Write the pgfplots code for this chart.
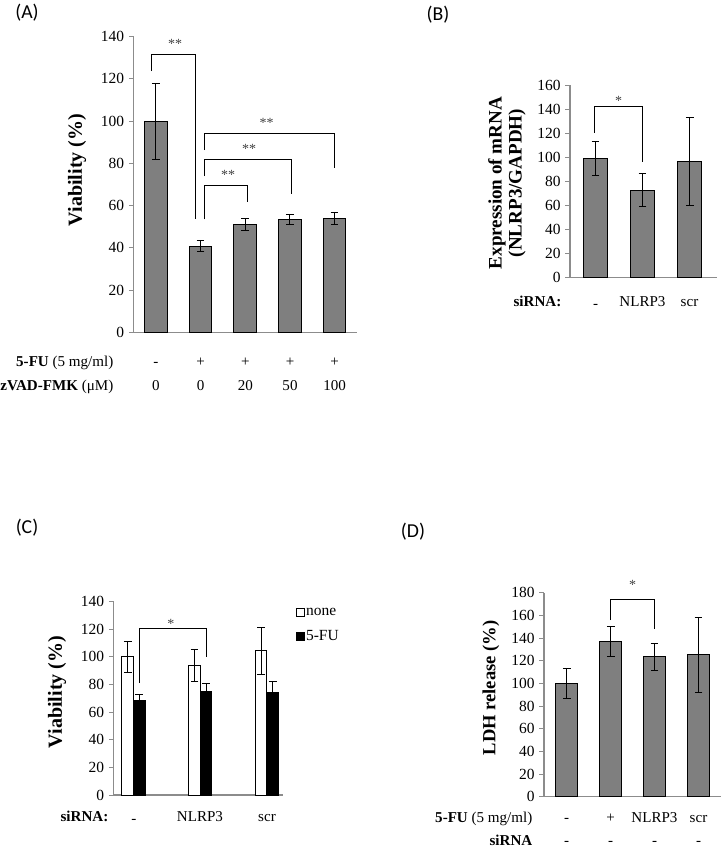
\documentclass[border=0pt]{standalone}
\usepackage{fontspec}
\setmainfont{Liberation Serif}
\newfontfamily\calibri{Carlito}
\usepackage{pgfplots}
\pgfplotsset{compat=1.18}

\definecolor{barg}{HTML}{7F7F7F}
\definecolor{axgray}{HTML}{8C8C8C}
\definecolor{stargray}{HTML}{404040}

\newcommand{\tf}{\fontsize{11.3}{14}\selectfont}
\newcommand{\pf}{\calibri\fontsize{14.8}{16}\selectfont}
\newcommand{\starfont}{\fontsize{10.5}{10.5}\selectfont}
\newcommand{\lo}{\raisebox{-1.5pt}{-}}

\pgfplotsset{
 panel/.style={
  scale only axis, anchor=south west,
  axis x line=bottom, axis y line=left,
  axis line style={draw=axgray, line width=0.9pt, -},
  y tick style={draw=axgray, line width=0.75pt},
  tick align=outside, major tick length=3.5pt,
  xtick=\empty,
  ymin=0,
  yticklabel style={font=\fontsize{11.6}{14}\selectfont},
  /pgf/number format/assume math mode=true,
  ybar, clip=false,
  every axis plot/.append style={draw=black, line width=0.75pt},
 },
 errs/.style={error bars/.cd, y dir=both, y explicit,
   error bar style={line width=0.75pt, black},
   error mark options={rotate=90, mark size=2.9pt, line width=0.75pt, black}},
}
\tikzset{brk/.style={black, line width=0.75pt}, st/.style={font=\starfont, text=stargray, inner sep=0pt},
  lb/.style={font=\tf, anchor=base}, lbe/.style={font=\tf, anchor=base east}}

\begin{document}
\begin{tikzpicture}[x=0.75pt,y=0.75pt]
\path[use as bounding box] (0,0) rectangle (722,-848);

% ---------------- (A) ----------------
\begin{axis}[panel, at={(100.125pt,-249.225pt)}, width=167.4pt, height=221.7pt,
  xmin=-0.5, xmax=4.5, ymax=140, ytick={0,20,...,140}, bar width=0.505]
\addplot[fill=barg, errs] coordinates {
 (0,100) +- (0,18)
 (1,40.7) +- (0,2.6)
 (2,51) +- (0,2.8)
 (3,53.5) +- (0,2.3)
 (4,54) +- (0,2.8)};
\draw[brk] (axis cs:-0.1,123.7) |- (axis cs:0.9,131.8) -- (axis cs:0.9,53.6);
\draw[brk] (axis cs:1.08,53.5) |- (axis cs:2.05,69.4) -- (axis cs:2.05,61.6);
\draw[brk] (axis cs:1.08,74) |- (axis cs:3.04,81.9) -- (axis cs:3.04,65.5);
\draw[brk] (axis cs:1.08,86.3) |- (axis cs:4.0,94.2) -- (axis cs:4.0,77.7);
\node[st] at (axis cs:0.43,136.5) {**};
\node[st] at (axis cs:1.62,74.5) {**};
\node[st] at (axis cs:2.09,86.8) {**};
\node[st] at (axis cs:2.48,99.4) {**};
\end{axis}
\node[font=\pf] at (27,-13) {(A)};
\node[rotate=90, font=\bfseries\fontsize{15}{18}\selectfont] at (77,-170) {Viability (\%)};
\node[lbe] at (118,-366) {\textbf{5-FU} (5 mg/ml)};
\node[lbe] at (118,-390) {\textbf{zVAD-FMK} (μM)};
\foreach \x/\a/\b in {155.9/-/0, 200.6/+/0, 245.3/+/20, 290.0/+/50, 334.7/+/100}{
  \node[lb] at (\x,-366) {\a};
  \node[lb] at (\x,-390) {\b};
}

% ---------------- (B) ----------------
\begin{axis}[panel, at={(427.5pt,-207.975pt)}, width=110.25pt, height=144.2pt,
  xmin=-0.54, xmax=2.58, ymax=160, ytick={0,20,...,160}, bar width=0.52]
\addplot[fill=barg, errs] coordinates {
 (0,98.8) +- (0,14.2)
 (1,72.6) +- (0,14)
 (2,96.5) +- (0,36.7)};
\draw[brk] (axis cs:-0.03,120.4) |- (axis cs:1.0,142) -- (axis cs:1.0,95.7);
\node[st] at (axis cs:0.49,147) {*};
\end{axis}
\node[font=\pf] at (438,-15) {(B)};
\node[rotate=90, align=center, font=\bfseries\fontsize{14.3}{15}\selectfont] at (507,-183) {Expression of mRNA\\(NLRP3/GAPDH)};
\node[lbe, font=\tf\bfseries] at (566,-306) {siRNA:};
\node[lb] at (595.5,-306) {\lo};
\node[lb] at (642.5,-306) {NLRP3};
\node[lb] at (689.5,-306) {scr};

% ---------------- (C) ----------------
\begin{axis}[panel, at={(85.125pt,-596.25pt)}, width=127.1pt, height=145pt,
  xmin=-0.30, xmax=2.24, ymax=140, ytick={0,20,...,140}, bar width=0.173,
  legend style={at={(axis description cs:1.075,0.975)}, anchor=north west,
    draw=none, fill=none, inner sep=0pt, row sep=8pt, font=\fontsize{11.6}{14}\selectfont,
    nodes={inner sep=1pt}},
  legend cell align=left,
  legend image code/.code={\draw[#1, line width=0.6pt] (0pt,-3pt) rectangle (6pt,3pt);}]
\addplot[fill=white, bar shift=-0.0865, errs] coordinates {
 (0,100.2) +- (0,11.3)
 (1,93.9) +- (0,11.5)
 (2,104.5) +- (0,17)};
\addplot[fill=black, bar shift=0.0865, errs] coordinates {
 (0,68.3) +- (0,4.4)
 (1,74.6) +- (0,6.3)
 (2,74.1) +- (0,8.2)};
\legend{none, 5-FU}
\draw[brk] (axis cs:0.0865,81) |- (axis cs:1.0865,120.4) -- (axis cs:1.0865,100);
\node[st] at (axis cs:0.56,124) {*};
\end{axis}
\node[font=\pf] at (27,-528) {(C)};
\node[rotate=90, font=\bfseries\fontsize{15}{18}\selectfont] at (57,-692) {Viability (\%)};
\node[lbe, font=\tf\bfseries] at (113,-821) {siRNA:};
\node[lb] at (134,-821) {\lo};
\node[lb] at (200,-821) {NLRP3};
\node[lb] at (267,-821) {scr};

% ---------------- (D) ----------------
\begin{axis}[panel, at={(408pt,-597.525pt)}, width=132.5pt, height=153pt,
  xmin=-0.517, xmax=3.505, ymax=180, ytick={0,20,...,180}, bar width=0.51]
\addplot[fill=barg, errs] coordinates {
 (0,100) +- (0,13)
 (1,137) +- (0,13)
 (2,123.5) +- (0,12)
 (3,125.3) +- (0,33)};
\draw[brk] (axis cs:1,155.9) |- (axis cs:2,174.4) -- (axis cs:2,147.6);
\node[st] at (axis cs:1.5,187) {*};
\end{axis}
\node[font=\pf] at (413,-532) {(D)};
\node[rotate=90, font=\bfseries\fontsize{13.9}{16}\selectfont] at (491,-688) {LDH release (\%)};
\node[lbe] at (537,-822) {\textbf{5-FU} (5 mg/ml)};
\node[lbe, font=\tf\bfseries] at (537,-845) {siRNA};
\foreach \x/\a in {566.7/-, 610.5/+, 654.5/NLRP3, 698.5/scr}{
  \node[lb] at (\x,-822) {\a};
  \node[lb] at (\x,-845) {-};
}
\end{tikzpicture}
\end{document}
